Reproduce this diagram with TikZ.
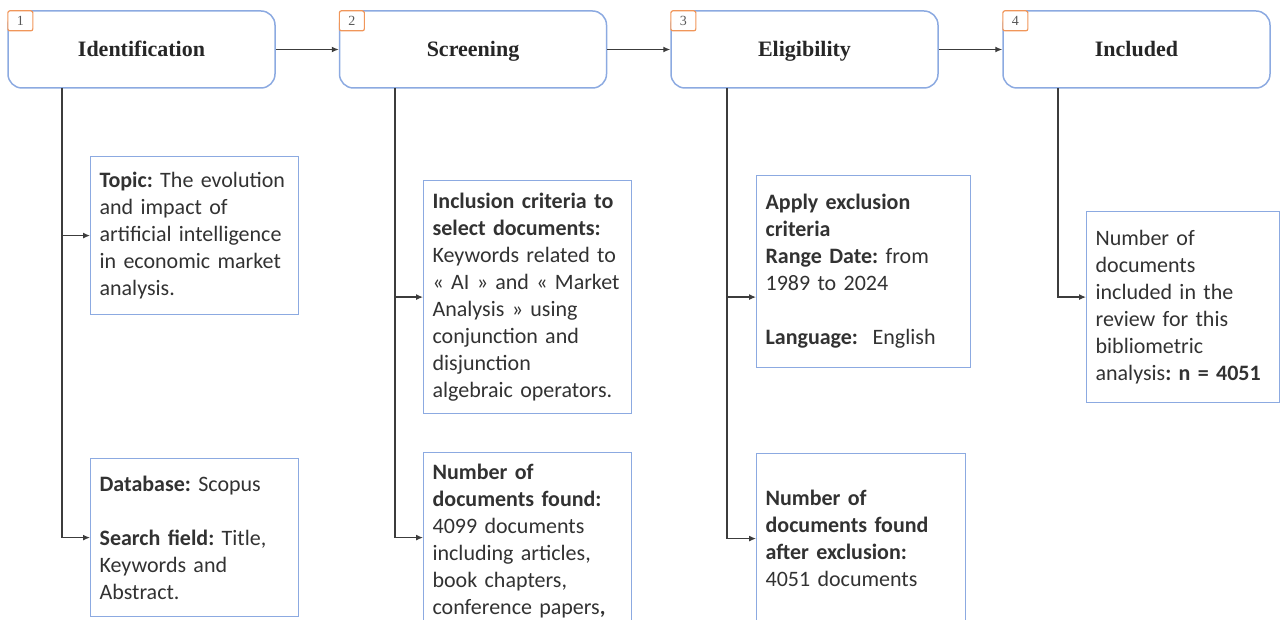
\documentclass[tikz,border=0pt]{standalone}
\usepackage{fontspec}
\setmainfont{Carlito}
\newfontfamily\headfont{Liberation Serif}
\usetikzlibrary{positioning, arrows.meta}
\tikzset{>={Latex[length=7pt,width=6pt]}}
\frenchspacing
\definecolor{boxblue}{RGB}{140,170,225}
\definecolor{badgeorange}{RGB}{240,150,90}
\definecolor{txtgray}{RGB}{50,50,50}
\definecolor{linegray}{RGB}{60,60,60}
\tikzset{
	head/.style={draw=boxblue, line width=1.5pt, rounded corners=14pt, minimum width=267pt, minimum height=77pt,
		text height=15pt, text depth=0pt, font=\headfont\fontsize{22}{26}\selectfont\bfseries, text=black!85},
	badge/.style={draw=badgeorange, fill=white, line width=1.2pt, rounded corners=2pt, minimum width=25pt,
		minimum height=20pt, inner sep=0pt, anchor=north west, font=\headfont\fontsize{14}{16}\selectfont, text=black!65},
	detail/.style={draw=boxblue, line width=1.2pt, anchor=north west, inner xsep=9pt, align=left,
		font=\fontsize{22}{27}\selectfont, text=txtgray},
	link/.style={->, draw=linegray, line width=1.2pt},
}

\begin{document}
\begin{tikzpicture}[x=1pt,y=-1pt]
		\useasboundingbox (0,0) rectangle (1280,620);
		\clip (0,0) rectangle (1280,620);

		% the four stages
		\node[head] (ident) at (141.5,49.5) {Identification};
		\node[head] (screen) at (473,49.5) {Screening};
		\node[head] (elig) at (804.5,49.5) {Eligibility};
		\node[head] (incl) at (1136.5,49.5) {Included};

		\node[badge] (n1) at (ident.north west) {1};
		\node[badge] (n2) at (screen.north west) {2};
		\node[badge] (n3) at (elig.north west) {3};
		\node[badge] (n4) at (incl.north west) {4};

		\draw[link] (ident) -- (screen);
		\draw[link] (screen) -- (elig);
		\draw[link] (elig) -- (incl);

		% stems below the stages
		\coordinate (v1) at (62,88);
		\coordinate (v2) at (395,88);
		\coordinate (v3) at (727,88);
		\coordinate (v4) at (1058,88);

		% detail boxes
		\node[detail, text width=190pt, minimum height=158pt] (topic) at (90,156)
			{\textbf{Topic:} The evolution\\ and impact of\\ artificial intelligence\\ in economic market\\ analysis.};
		\node[detail, text width=190pt, minimum height=158pt] (base) at (90,458)
			{\textbf{Database:} Scopus\\[27pt] \textbf{Search field:} Title,\\ Keywords and\\ Abstract.};
		\node[detail, text width=190pt, minimum height=233pt] (crit) at (423,180)
			{\textbf{Inclusion criteria to}\\ \textbf{select documents:}\\ Keywords related to\\ «~AI~» and «~Market\\ Analysis~» using\\ conjunction and\\ disjunction\\ algebraic operators.};
		\node[detail, text width=190pt, inner ysep=11pt] (found) at (423,452)
			{\textbf{Number of}\\ \textbf{documents found:}\\ 4099 documents\\ including articles,\\ book chapters,\\ conference papers\textbf{,}\\[60pt] \mbox{}};
		\node[detail, text width=196pt, minimum height=192pt] (excl) at (756,175)
			{\textbf{Apply exclusion}\\ \textbf{criteria}\\ \textbf{Range Date:} from\\ 1989 to 2024\\[27pt] \textbf{Language:}\ \ English};
		\node[detail, text width=191pt, minimum height=170pt] (after) at (756,453)
			{\textbf{Number of}\\ \textbf{documents found}\\ \textbf{after exclusion:}\\ 4051 documents};
		\node[detail, text width=175pt, minimum height=191pt] (final) at (1086,211)
			{Number of\\ documents\\ included in the\\ review for this\\ bibliometric\\ analysis\textbf{: n = 4051}};

		% branches
		\draw[link] (v1) |- (topic.west);
		\draw[link] (v1) |- (base.west);
		\draw[link] (v2) |- (crit.west);
		\draw[link] (v2) |- (found.west |- base.west);
		\draw[link] (v3) |- (excl.west |- crit.west);
		\draw[link] (v3) |- (after.west);
		\draw[link] (v4) |- (final.west |- crit.west);

	\end{tikzpicture}
\end{document}
